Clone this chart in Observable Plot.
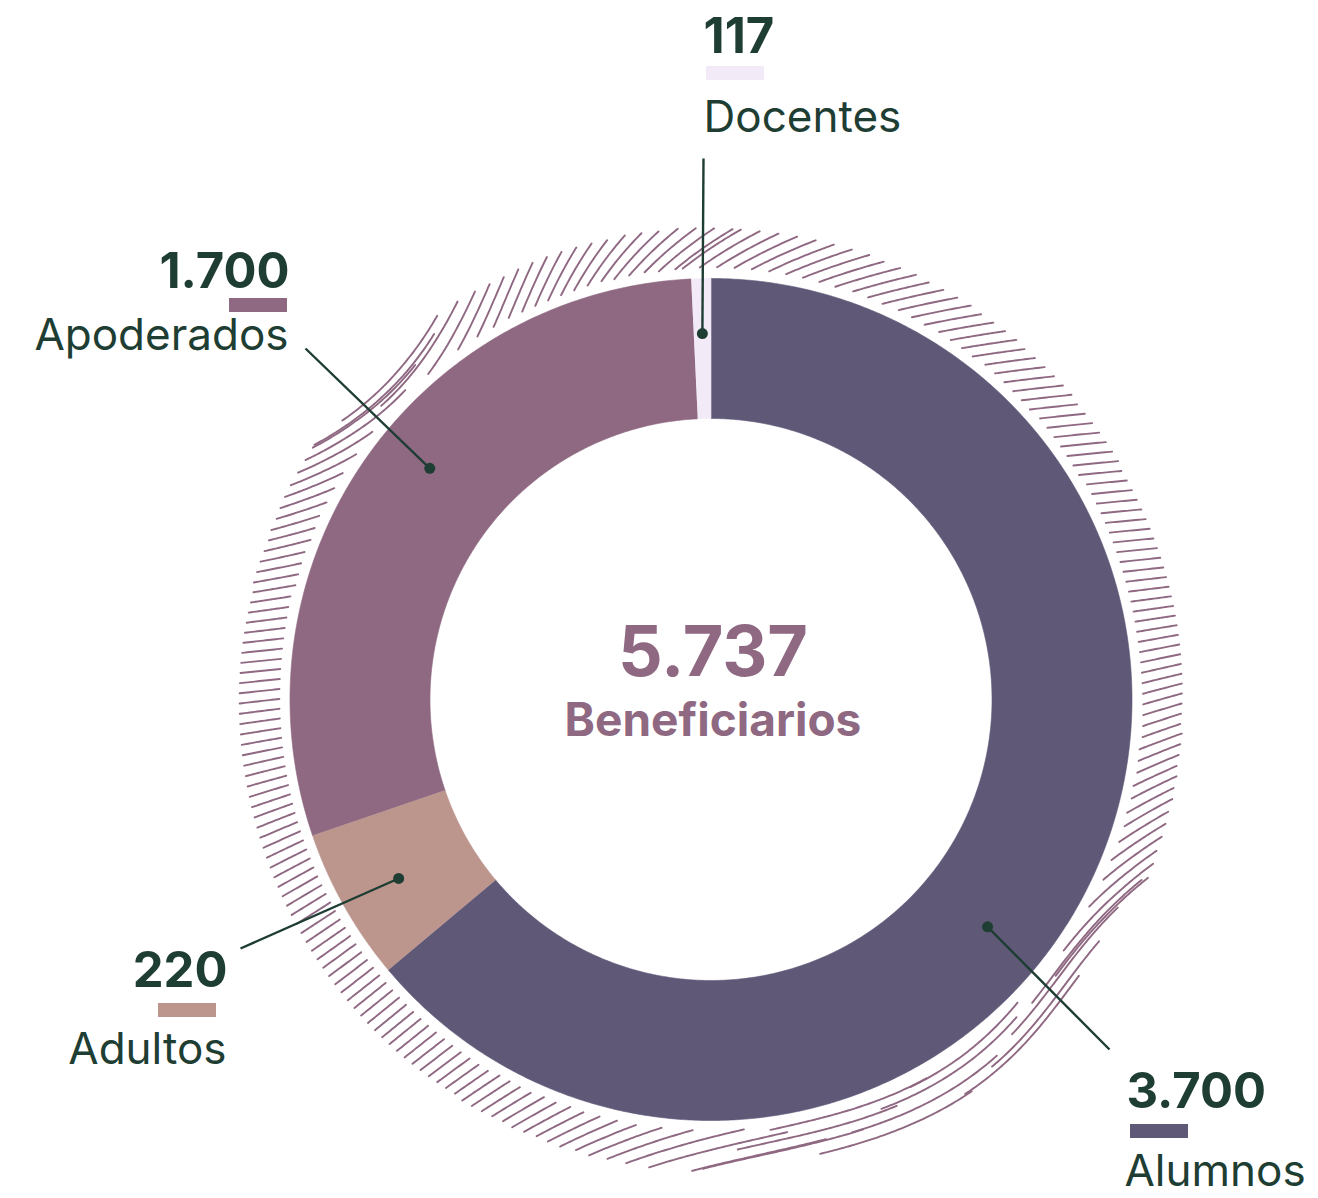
<!DOCTYPE html>
<html><head><meta charset="utf-8">
<script src="https://cdn.jsdelivr.net/npm/d3@7"></script>
<script src="https://cdn.jsdelivr.net/npm/@observablehq/plot@0.6"></script>
<style>html,body{margin:0;padding:0;background:#fff}#chart svg{display:block}</style>
</head><body><div id="chart"></div>
<script>
// ---------- data ----------
const categories = ["Alumnos", "Adultos", "Apoderados", "Docentes"];
const values = [3700, 220, 1700, 117];
// share of the ring each slice occupies in the picture (%), clockwise from 12 o'clock
const drawnShare = [63.9, 5.86, 29.49, 0.75];
const sliceColors = ["#5f5877", "#bc958d", "#8f6882", "#f3eaf8"];
const centerLabel = "Beneficiarios";

// ---------- layout / style ----------
const W = 1318, H = 1198;
const cx = 710.5, cy = 699, R = 421, r0 = 281;
const ink = "#1e3d33", mauve = "#8f6882";
const FONT = "Inter, 'Noto Sans', sans-serif";
const fmt = d3.formatLocale({decimal: ",", thousands: ".", grouping: [3], currency: ["", ""]}).format(",d");

// label placement (page px)
const labelLayout = {
  Docentes:   {anchor: "start", x: 703,  numY: 52,   barY: 66,   nameY: 131,  barX: 706,  nameX: 703,  end: [703, 158],  nudge: 0,    dotR: 366},
  Apoderados: {anchor: "end",   x: 289,  numY: 287,  barY: 298,  nameY: 349,  barX: 229,  nameX: 288,  end: [305, 348],  nudge: 5.2,  dotR: 364},
  Adultos:    {anchor: "end",   x: 227,  numY: 986,  barY: 1003, nameY: 1063, barX: 158,  nameX: 226,  end: [240, 948],  nudge: -0.4, dotR: 360},
  Alumnos:    {anchor: "start", x: 1126, numY: 1107, barY: 1124, nameY: 1185, barX: 1130, nameX: 1124, end: [1109, 1049], nudge: 14.4, dotR: 358}
};
const barW = 58, barH = 14;

// decorative hatch texture: local stroke direction (deg, "/" positive) around the ring
const hatchDir = [[0,32],[20,15],[45,6],[75,5],[90,15],[110,35],[130,60],[150,28],[165,12],[180,12],[200,28],[225,42],[250,28],[270,2],[290,12],[305,30],[320,55],[335,75],[345,55],[360,32]];

const rad = Math.PI / 180;
const polar = (r, deg) => ({x: cx + r * Math.sin(deg * rad), y: cy - r * Math.cos(deg * rad)});

// ---------- slices ----------
const totalShare = d3.sum(drawnShare);
let acc = 0;
const slices = categories.map((c, i) => {
  const a0 = acc / totalShare * 360;
  acc += drawnShare[i];
  const a1 = acc / totalShare * 360;
  const n = Math.max(2, Math.ceil((a1 - a0) / 0.4));
  const pts = [];
  for (let k = 0; k <= n; k++) pts.push(polar(R, a0 + (a1 - a0) * k / n));
  for (let k = n; k >= 0; k--) pts.push(polar(r0, a0 + (a1 - a0) * k / n));
  return {cat: c, value: values[i], color: sliceColors[i], a0, a1, pts};
});

// ---------- hatch (streamlines of a smoothed direction field) ----------
const dirScale = d3.scaleLinear().domain(hatchDir.map(d => d[0])).range(hatchDir.map(d => d[1]));
const wrap360 = d => ((d % 360) + 360) % 360;
const smoothDir = deg => { let s = 0, w = 0; for (let k = -8; k <= 8; k++) { const wt = Math.exp(-(k * k) / 20); s += wt * dirScale(wrap360(deg + k * 2)); w += wt; } return s / w; };
const hIn = 431, hOut = 472, band = hOut - hIn, hMid = (hIn + hOut) / 2;
const sp = 10, Lmax = 165, stepMax = 38, ds = 2.5;
const offsetAt = deg => (smoothDir(deg) - 90 + deg) * rad;
function trace(rc, thc, sgn) {
  const out = [];
  let r = rc, t = thc, len = 0, pv = null;
  while (len < Lmax / 2) {
    const a = offsetAt(t);
    let v = [Math.cos(a), -Math.sin(a)];
    if (pv) { if (v[0] * pv[0] + v[1] * pv[1] < 0) v = [-v[0], -v[1]]; }
    else v = [v[0] * sgn, v[1] * sgn];
    const rn = r + v[0] * ds;
    if (rn < hIn || rn > hOut) break;
    t += (v[1] * ds / r) / rad;
    r = rn; len += ds; pv = v;
    out.push(polar(r, t));
  }
  return out;
}
const hatch = [];
let th = 0, id = 0;
while (th < 360) {
  const a = offsetAt(th);
  const ca = Math.max(Math.abs(Math.cos(a)), 1e-3);
  const L = Math.min(band / ca, Lmax), dr = L * ca;
  const step = Math.min(sp / ca, stepMax);
  const n = Math.max(1, Math.round(L / step));
  const rc = n > 1 ? hIn + dr / 2 + ((id % n) / (n - 1)) * (band - dr) : hMid;
  const pts = [...trace(rc, th, -1).reverse(), polar(rc, th), ...trace(rc, th, 1)];
  for (const p of pts) hatch.push({id, ...p});
  id++;
  th += step / hMid / rad;
}

// ---------- labels & leaders ----------
const labels = slices.map(s => {
  const L = labelLayout[s.cat];
  const mid = (s.a0 + s.a1) / 2 + L.nudge;
  const p = polar(L.dotR, mid);
  return {...s, ...L, dx: p.x, dy: p.y, ex: L.end[0], ey: L.end[1]};
});

const marks = [];
marks.push(...slices.map(s => Plot.line(s.pts, {x: "x", y: "y", fill: s.color, stroke: s.color, strokeWidth: 0.6, curve: "linear"})));
marks.push(Plot.line(hatch, {x: "x", y: "y", z: "id", stroke: mauve, strokeWidth: 1.9, strokeLinecap: "round", curve: "linear"}));
marks.push(Plot.link(labels, {x1: "dx", y1: "dy", x2: "ex", y2: "ey", stroke: ink, strokeWidth: 2.4}));
marks.push(Plot.dot(labels, {x: "dx", y: "dy", r: 5.5, fill: ink}));
marks.push(Plot.rect(labels, {x1: "barX", x2: d => d.barX + barW, y1: "barY", y2: d => d.barY + barH, fill: "color"}));
for (const anchor of ["start", "end"]) {
  const sub = labels.filter(d => d.anchor === anchor);
  marks.push(Plot.text(sub, {x: "x", y: "numY", text: d => fmt(d.value), textAnchor: anchor, lineAnchor: "bottom", fontFamily: FONT, fontWeight: 700, fontSize: 49, fill: ink, letterSpacing: -3.2}));
  marks.push(Plot.text(sub, {x: "nameX", y: "nameY", text: "cat", textAnchor: anchor, lineAnchor: "bottom", fontFamily: FONT, fontWeight: 400, fontSize: 44, fill: ink, letterSpacing: 1.4}));
}
const total = d3.sum(values);
marks.push(Plot.text([{x: cx + 2, y: 675, t: fmt(total)}], {x: "x", y: "y", text: "t", lineAnchor: "bottom", fontFamily: FONT, fontWeight: 700, fontSize: 70, fill: mauve, letterSpacing: -5}));
marks.push(Plot.text([{x: cx + 2, y: 735, t: centerLabel}], {x: "x", y: "y", text: "t", lineAnchor: "bottom", fontFamily: FONT, fontWeight: 700, fontSize: 46, fill: mauve, letterSpacing: -1.2}));

const chart = Plot.plot({
  width: W, height: H,
  margin: 0,
  x: {domain: [0, W], range: [0, W], axis: null},
  y: {domain: [0, H], range: [0, H], axis: null},
  style: {background: "#fff", overflow: "visible"},
  marks
});
document.getElementById("chart").append(chart);
</script>
</body></html>
